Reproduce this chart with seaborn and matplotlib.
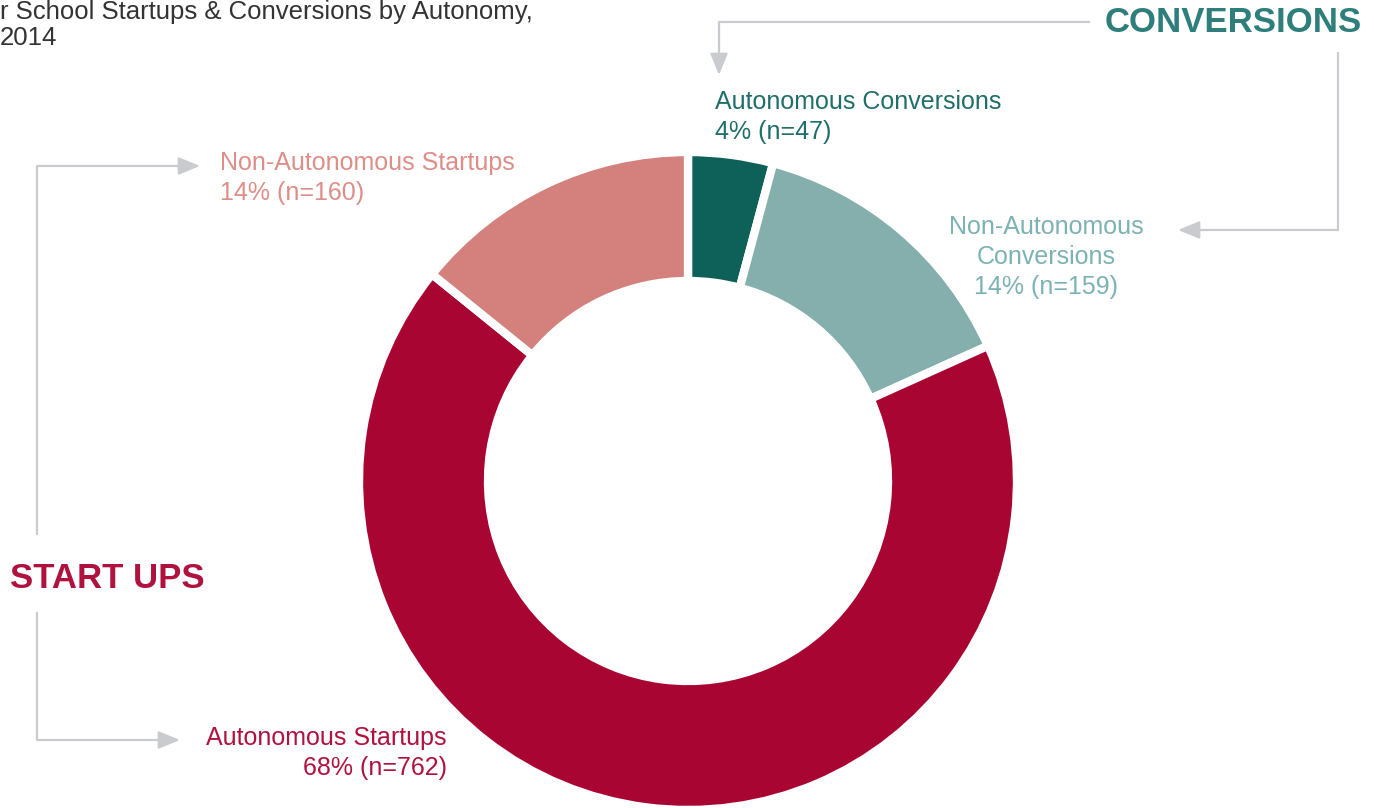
import matplotlib
matplotlib.use("Agg")
import matplotlib.pyplot as plt
import seaborn as sns

# slices, clockwise from 12 o'clock
segments = ["Autonomous Conversions", "Non-Autonomous Conversions",
            "Autonomous Startups", "Non-Autonomous Startups"]
counts = [47, 159, 762, 160]
shares = [4, 14, 68, 14]
slice_colors = ["#0E6158", "#84AFAD", "#A80533", "#D4817D"]
label_colors = ["#1F6E6A", "#7DB2B4", "#B0123F", "#DE8E88"]

title_lines = ["r School Startups & Conversions by Autonomy,", "2014"]
group_names = ["CONVERSIONS", "START UPS"]
group_colors = ["#2E7F7B", "#B0123F"]

W, H = 1374, 808
ARROW = "#C9CBCE"

sns.set_theme(style="white")
plt.rcParams["font.family"] = ["Liberation Sans", "DejaVu Sans"]

fig = plt.figure(figsize=(W / 100, H / 100), dpi=100)
ax = fig.add_axes([0, 0, 1, 1])
ax.set_xlim(0, W)
ax.set_ylim(0, H)
ax.set_aspect("equal")
ax.axis("off")


def Y(y):
    # reference picture measured from the top
    return H - y


# --- donut ---
R = 329
ax.pie(counts, colors=slice_colors, startangle=90, counterclock=False,
       center=(688, Y(481)), radius=R,
       wedgeprops=dict(width=129, edgecolor="white", linewidth=6))
ax.set_xlim(0, W)
ax.set_ylim(0, H)

# --- title ---
ax.text(0, Y(12), title_lines[0], fontsize=18.5, color="#333333",
        ha="left", va="center")
ax.text(0, Y(38), title_lines[1], fontsize=18.5, color="#333333",
        ha="left", va="center")

# --- slice labels ---
fs = 18
lab = [f"{s}\n{p}% (n={n})" for s, p, n in zip(segments, shares, counts)]
ax.text(715, Y(117), lab[0], fontsize=fs, color=label_colors[0],
        ha="left", va="center", linespacing=1.35)
ax.text(1046, Y(257), "Non-Autonomous\nConversions\n" + f"{shares[1]}% (n={counts[1]})",
        fontsize=fs, color=label_colors[1], ha="center", va="center",
        multialignment="center", linespacing=1.3)
ax.text(447, Y(753), lab[2], fontsize=fs, color=label_colors[2],
        ha="right", va="center", multialignment="right", linespacing=1.35)
ax.text(220, Y(178), lab[3], fontsize=fs, color=label_colors[3],
        ha="left", va="center", linespacing=1.35)

# --- group headings ---
ax.text(1362, Y(22), group_names[0], fontsize=25, fontweight="bold",
        color=group_colors[0], ha="right", va="center")
ax.text(10, Y(578), group_names[1], fontsize=25, fontweight="bold",
        color=group_colors[1], ha="left", va="center")


# --- elbow arrows ---
def elbow(points):
    xs = [p[0] for p in points[:-1]]
    ys = [Y(p[1]) for p in points[:-1]]
    ax.plot(xs, ys, color=ARROW, lw=1.6, solid_capstyle="butt")
    (x0, y0), (x1, y1) = points[-2], points[-1]
    ax.annotate("", xy=(x1, Y(y1)), xytext=(x0, Y(y0)),
                arrowprops=dict(arrowstyle="-|>,head_length=1.1,head_width=0.45",
                                color=ARROW, lw=1.6, shrinkA=0, shrinkB=0))


elbow([(1090, 22), (719, 22), (719, 75)])
elbow([(1338, 52), (1338, 230), (1178, 230)])
elbow([(37, 535), (37, 166), (200, 166)])
elbow([(37, 612), (37, 740), (180, 740)])

fig.savefig("out.png", dpi=100, facecolor="white")
